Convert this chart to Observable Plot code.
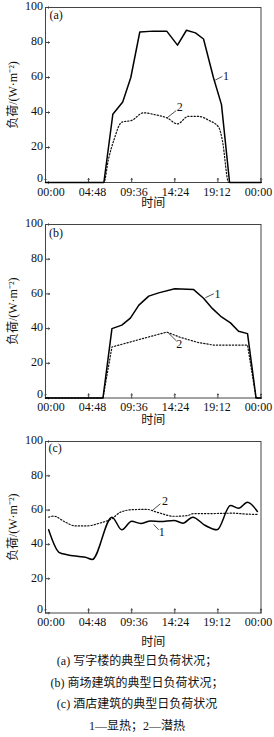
<!DOCTYPE html>
<html>
<head>
<meta charset="utf-8">
<script src="https://cdn.jsdelivr.net/npm/d3@7"></script>
<script src="https://cdn.jsdelivr.net/npm/@observablehq/plot@0.6"></script>
<style>
  html, body { margin: 0; padding: 0; background: #fff; }
  #wrap { width: 274px; }
  #wrap svg { display: block; }
  .cap { width: 274px; text-align: center; font-family: 'Liberation Serif', 'Noto Sans CJK SC', serif; font-size: 12px; line-height: 21.7px; color: #111; padding-top: 1px; }
</style>
</head>
<body>
<div id="wrap"></div>
<script>
// ---- data (hours of day, load W/m^2) ----
const ticksX = [0, 4.8, 9.6, 14.4, 19.2, 24];
const ticksY = [0, 20, 40, 60, 80, 100];

// (a) office building
const hoursA1 = [0, 6.5, 7.5, 8.6, 9.5, 10.5, 12.0, 13.5, 14.7, 15.7, 16.7, 17.6, 18.7, 19.6, 20.5, 24];
const loadA1  = [0, 0, 39, 46, 60, 86, 86.5, 86.5, 78.5, 87, 85.5, 82, 60, 44.5, 0, 0];
const hoursA2 = [0, 6.5, 7.0, 7.6, 8.5, 9.6, 10.9, 12.4, 13.5, 14.7, 15.9, 17.0, 18.2, 19.3, 19.7, 20.4, 24];
const loadA2  = [0, 0, 13, 24, 34.5, 35.5, 39.8, 38.5, 37, 33.5, 37.8, 37.8, 35.5, 31.5, 24, 0, 0];

// (b) shopping mall
const hoursB1 = [0, 6.4, 7.4, 8.5, 9.45, 10.4, 11.5, 12.6, 14.4, 16.5, 17.6, 18.6, 19.6, 20.6, 21.5, 22.5, 23.45, 24];
const loadB1  = [0, 0, 40, 42, 46, 53.5, 58.7, 60.6, 63, 62.5, 57.5, 51.5, 46.7, 43.3, 38.5, 37.1, 0, 0];
const hoursB2 = [0, 6.4, 7.4, 13.5, 15.0, 17.0, 18.7, 22.5, 23.45, 24];
const loadB2  = [0, 0, 29.4, 38, 35, 32, 30.5, 30.5, 0, 0];

// (c) hotel
const hoursC1 = [0.35, 1.5, 2.4, 3.7, 4.45, 5.2, 7.4, 8.5, 9.6, 10.6, 11.7, 12.8, 14.3, 15.3, 16.4, 17.8, 19.1, 20.6, 21.5, 22.5, 23.6];
const loadC1  = [48.5, 35.4, 34, 33, 32.5, 31.2, 55.9, 48.5, 53.5, 52.2, 53.7, 53.4, 54, 52.4, 55.9, 51, 48.5, 62.7, 61.1, 64.6, 59.2];
const hoursC2 = [0.35, 0.9, 2.2, 3.3, 4.6, 6.1, 7.4, 8.35, 9.8, 11.3, 12.4, 14.3, 15.8, 16.5, 18.7, 20.9, 22.3, 23.6];
const loadC2  = [55.9, 56.5, 53, 50.8, 50.8, 52.5, 55, 58.8, 60.3, 60.4, 58.8, 56.4, 56.8, 58, 58, 58.2, 57.7, 57.5];

// series callouts: leader line (x1,y1)->(x2,y2), label at (tx,ty)
const notesA = [
  {label: "1", x1: 18.9, y1: 58.5, x2: 19.7, y2: 60.6, tx: 20.1, ty: 61},
  {label: "2", x1: 13.55, y1: 37, x2: 14.55, y2: 41.1, tx: 14.95, ty: 42.8}
];
const notesB = [
  {label: "1", x1: 17.8, y1: 57.8, x2: 18.75, y2: 60.1, tx: 19.15, ty: 60.1},
  {label: "2", x1: 13.7, y1: 37.4, x2: 14.6, y2: 32.8, tx: 14.9, ty: 31.2}
];
const notesC = [
  {label: "1", x1: 12.05, y1: 51.6, x2: 12.6, y2: 48.5, tx: 12.95, ty: 47.4},
  {label: "2", x1: 11.9, y1: 59.8, x2: 12.8, y2: 63.7, tx: 13.3, ty: 65}
];

const letters = ["(a)", "(b)", "(c)"];
const xLabel = "时间";
const yLabel = "负荷/(W·m⁻²)";
const captions = [
  "(a) 写字楼的典型日负荷状况；",
  "(b) 商场建筑的典型日负荷状况；",
  "(c) 酒店建筑的典型日负荷状况",
  "1—显热；2—潜热"
];

const zip = (xs, ys) => xs.map((x, i) => ({x, y: ys[i]}));
const pad = n => String(n).padStart(2, "0");
const fmtTime = h => { const m = Math.round(h * 60) % 1440; return pad(Math.floor(m / 60)) + ":" + pad(m % 60); };
const FONT = "'Liberation Serif', 'Noto Sans CJK SC', serif";
const FRAME = "#444";

function panel(cfg) {
  // x tick labels drift slightly right at the left end, left at the right end (as in the original)
  const xTickText = ticksX.map((t, i) =>
    Plot.text([t], {x: d => d, text: fmtTime, frameAnchor: "bottom", dy: cfg.xdy, dx: 5.5 - 1.6 * i, lineAnchor: "middle", fill: "#111"})
  );
  return Plot.plot({
    width: 274,
    height: cfg.height,
    marginTop: cfg.mt,
    marginBottom: cfg.mb,
    marginLeft: 45,
    marginRight: 13.5,
    style: {fontFamily: FONT, fontSize: "12px", color: "#111", background: "#fff", overflow: "visible"},
    x: {domain: [0, 24], axis: null},
    y: {domain: [0, 100], axis: null},
    marks: [
      ...xTickText,
      Plot.text(ticksY.slice(1), {y: d => d, text: d => String(d), frameAnchor: "left", dx: -2.5, dy: -1, textAnchor: "end", lineAnchor: "middle", fill: "#111"}),
      Plot.text(ticksY.slice(0, 1), {y: d => d, text: d => String(d), frameAnchor: "left", dx: -2.5, dy: -4, textAnchor: "end", lineAnchor: "middle", fill: "#111"}),
      Plot.vector(ticksY, {x: 0, y: d => d, rotate: 90, length: 4, anchor: "start", stroke: FRAME, strokeWidth: 1}),
      Plot.vector(ticksX, {x: d => d, y: 0, rotate: 0, length: 4, anchor: "start", stroke: FRAME, strokeWidth: 1}),
      Plot.frame({stroke: FRAME, strokeWidth: 1}),
      Plot.line(zip(cfg.h2, cfg.v2), {x: "x", y: "y", curve: cfg.c2, stroke: "#111", strokeWidth: 1.2, strokeDasharray: "1.3,1.9"}),
      Plot.line(zip(cfg.h1, cfg.v1), {x: "x", y: "y", curve: cfg.c1, stroke: "#000", strokeWidth: 1.5}),
      Plot.link(cfg.notes, {x1: "x1", y1: "y1", x2: "x2", y2: "y2", stroke: "#222", strokeWidth: 0.8}),
      Plot.text(cfg.notes, {x: "tx", y: "ty", text: "label", textAnchor: "middle", lineAnchor: "middle", fill: "#111"}),
      Plot.text([cfg.letter], {frameAnchor: "top-left", dx: cfg.ldx, dy: cfg.ldy, textAnchor: "start", lineAnchor: "middle", fill: "#111"}),
      Plot.text([xLabel], {frameAnchor: "bottom", dy: cfg.tdy, lineAnchor: "middle", fill: "#111"}),
      Plot.text([yLabel], {frameAnchor: "left", dx: -32, rotate: -90, textAnchor: "middle", lineAnchor: "middle", fill: "#111"})
    ]
  });
}

const wrap = document.getElementById("wrap");
wrap.appendChild(panel({height: 210, mt: 7, mb: 28, xdy: 10, h1: hoursA1, v1: loadA1, h2: hoursA2, v2: loadA2, c1: "linear", c2: "monotone-x", notes: notesA, letter: letters[0], ldx: 4, ldy: 8, tdy: 20.5}));
wrap.appendChild(panel({height: 225, mt: 14, mb: 37.5, xdy: 9, h1: hoursB1, v1: loadB1, h2: hoursB2, v2: loadB2, c1: "linear", c2: "linear", notes: notesB, letter: letters[1], ldx: 3.5, ldy: 9, tdy: 22.5}));
wrap.appendChild(panel({height: 215, mt: 6, mb: 37.5, xdy: 9, h1: hoursC1, v1: loadC1, h2: hoursC2, v2: loadC2, c1: "monotone-x", c2: "monotone-x", notes: notesC, letter: letters[2], ldx: 3, ldy: 7, tdy: 29}));

const cap = document.createElement("div");
cap.className = "cap";
cap.innerHTML = captions.map(t => `<div>${t}</div>`).join("");
wrap.appendChild(cap);
</script>
</body>
</html>
